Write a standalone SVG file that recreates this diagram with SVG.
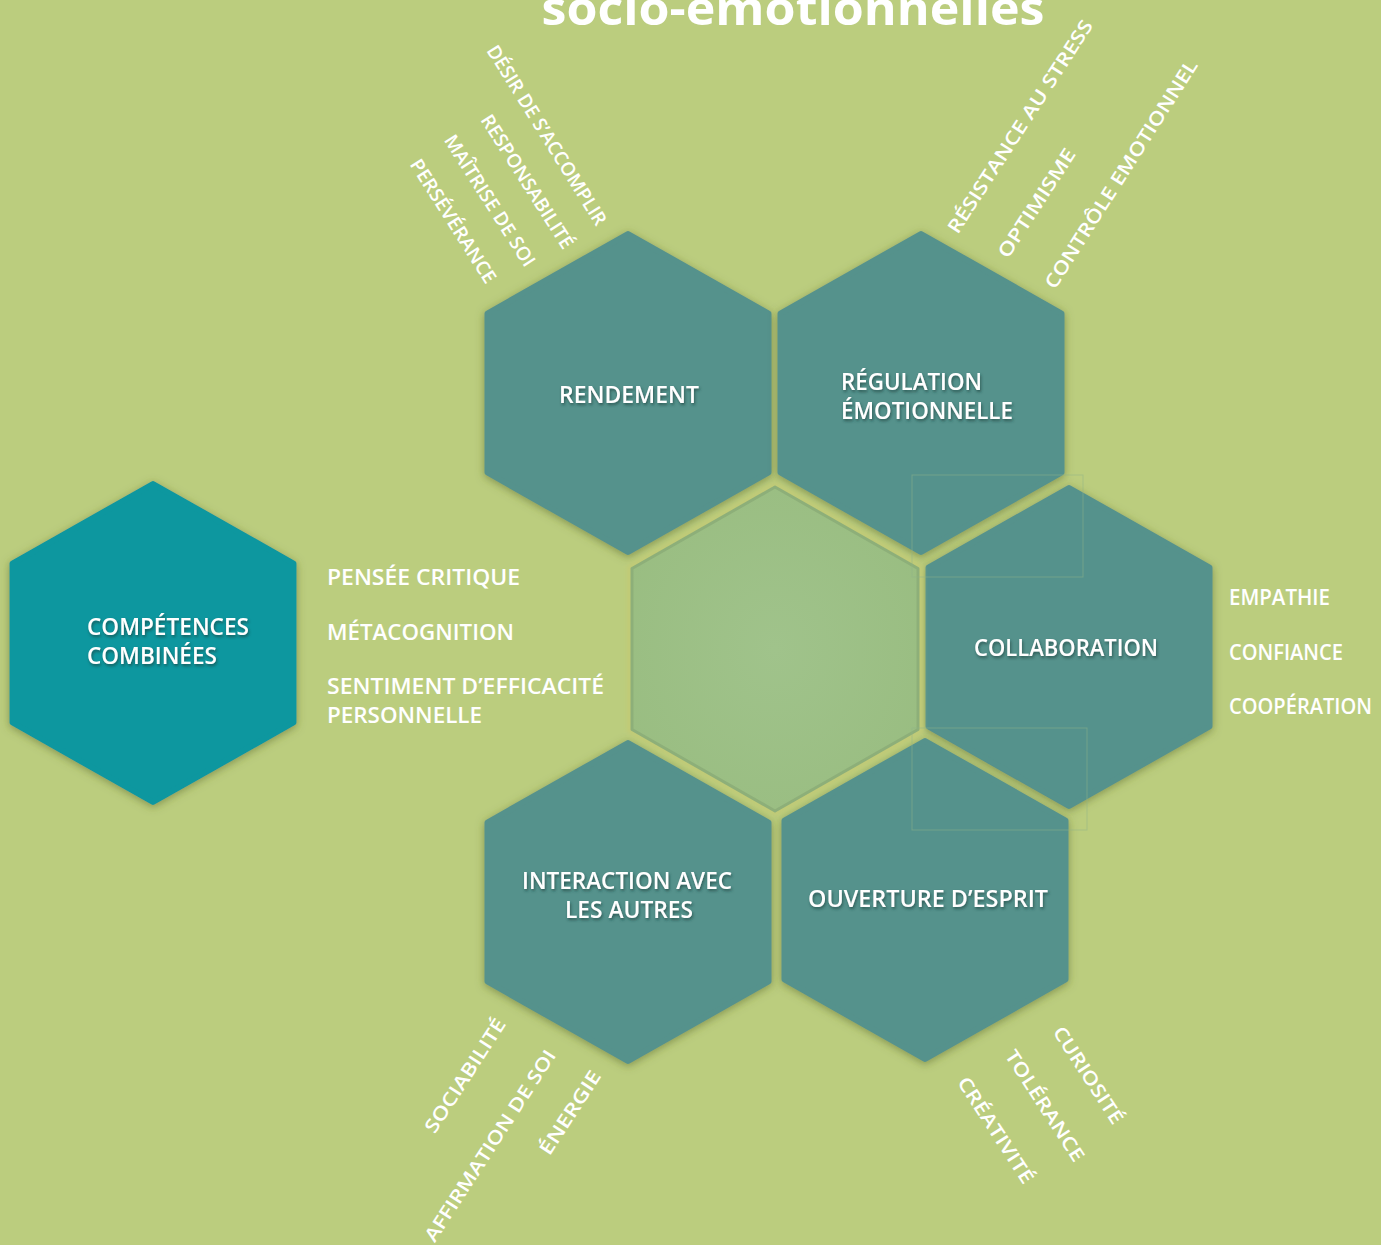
<svg xmlns="http://www.w3.org/2000/svg" width="1381" height="1245" viewBox="0 0 1381 1245">
<defs>
<style>
.hex{fill:#55928C;stroke:#55928C;stroke-width:6;stroke-linejoin:round;filter:url(#sh)}
.hexc{fill:#0E979F;stroke:#0E979F;stroke-width:6;stroke-linejoin:round;filter:url(#sh)}
.t{font-family:"Open Sans","Noto Sans","DejaVu Sans",sans-serif;fill:#FFFFFF}
.hl{font-size:24px;font-weight:600;filter:url(#ts)}
.sl{font-size:22px;font-weight:600}
.rl{font-size:19px;font-weight:600}
.art{fill:none;stroke:#8FB58A;stroke-width:1;opacity:0.5}
</style>
<filter id="sh" x="-20%" y="-20%" width="140%" height="140%">
<feDropShadow dx="0" dy="2" stdDeviation="4" flood-color="#56652A" flood-opacity="0.55"/>
</filter>
<filter id="ts" x="-10%" y="-40%" width="120%" height="180%">
<feDropShadow dx="1" dy="2" stdDeviation="1.5" flood-color="#1F3F3C" flood-opacity="0.7"/>
</filter>
<filter id="gl" x="-20%" y="-20%" width="140%" height="140%">
<feGaussianBlur stdDeviation="2"/>
</filter>
<radialGradient id="cg" cx="0.5" cy="0.5" r="0.6">
<stop offset="0" stop-color="#A0C38B"/>
<stop offset="1" stop-color="#99BD81"/>
</radialGradient>
</defs>
<rect x="0" y="0" width="1381" height="1245" fill="#BBCD7E"/>

<text class="t" x="793" y="25" text-anchor="middle" font-size="46" font-weight="700" textLength="503" lengthAdjust="spacingAndGlyphs">socio-émotionnelles</text>

<g id="connectors"></g>

<g id="rendement">
<polygon class="hex" points="628,234 768.5,313.5 768.5,472.5 628,552 487.5,472.5 487.5,313.5"/>
<text class="t hl" x="629" y="403" text-anchor="middle" textLength="140" lengthAdjust="spacingAndGlyphs">RENDEMENT</text>
</g>

<g id="regulation">
<polygon class="hex" points="921,234 1061.5,313.5 1061.5,472.5 921,552 780.5,472.5 780.5,313.5"/>
<text class="t hl" x="841" y="390" textLength="141" lengthAdjust="spacingAndGlyphs">RÉGULATION</text>
<text class="t hl" x="841" y="419" textLength="172" lengthAdjust="spacingAndGlyphs">ÉMOTIONNELLE</text>
</g>

<g id="collaboration">
<polygon class="hex" points="1069,488 1209.5,567.5 1209.5,726.5 1069,806 928.5,726.5 928.5,567.5"/>
<text class="t hl" x="1066" y="656" text-anchor="middle" textLength="184" lengthAdjust="spacingAndGlyphs">COLLABORATION</text>
</g>

<g id="interaction">
<polygon class="hex" points="628,743 768.5,822.5 768.5,981.5 628,1061 487.5,981.5 487.5,822.5"/>
<text class="t hl" x="627" y="889" text-anchor="middle" textLength="210" lengthAdjust="spacingAndGlyphs">INTERACTION AVEC</text>
<text class="t hl" x="629" y="918" text-anchor="middle" textLength="128" lengthAdjust="spacingAndGlyphs">LES AUTRES</text>
</g>

<g id="ouverture">
<polygon class="hex" points="925,741 1065.5,820.5 1065.5,979.5 925,1059 784.5,979.5 784.5,820.5"/>
<text class="t hl" x="928" y="907" text-anchor="middle" textLength="240" lengthAdjust="spacingAndGlyphs">OUVERTURE D’ESPRIT</text>
</g>

<g id="centre">
<polygon points="775,482 923,566 923,732 775,816 627,732 627,566" fill="#C1CA76" filter="url(#gl)"/>
<polygon points="775,487 918,568.5 918,729.5 775,811 632,729.5 632,568.5" fill="url(#cg)" stroke="#8DAF79" stroke-width="3" stroke-linejoin="round"/>
</g>

<g id="competences">
<polygon class="hexc" points="153,484 293.5,563.5 293.5,722.5 153,802 12.5,722.5 12.5,563.5"/>
<text class="t hl" x="87" y="635" textLength="162" lengthAdjust="spacingAndGlyphs">COMPÉTENCES</text>
<text class="t hl" x="87" y="664" textLength="130" lengthAdjust="spacingAndGlyphs">COMBINÉES</text>
</g>

<g id="artefacts">
<rect class="art" x="912" y="475" width="171" height="102"/>
<rect class="art" x="912" y="728" width="175" height="102"/>
</g>

<g id="liste-combinees">
<text class="t sl" x="327" y="585" textLength="193" lengthAdjust="spacingAndGlyphs">PENSÉE CRITIQUE</text>
<text class="t sl" x="327" y="640" textLength="187" lengthAdjust="spacingAndGlyphs">MÉTACOGNITION</text>
<text class="t sl" x="327" y="694" textLength="277" lengthAdjust="spacingAndGlyphs">SENTIMENT D’EFFICACITÉ</text>
<text class="t sl" x="327" y="723" textLength="155" lengthAdjust="spacingAndGlyphs">PERSONNELLE</text>
</g>

<g id="liste-collaboration">
<text class="t sl" x="1229" y="605" textLength="101" lengthAdjust="spacingAndGlyphs">EMPATHIE</text>
<text class="t sl" x="1229" y="660" textLength="114" lengthAdjust="spacingAndGlyphs">CONFIANCE</text>
<text class="t sl" x="1229" y="714" textLength="143" lengthAdjust="spacingAndGlyphs">COOPÉRATION</text>
</g>

<g id="liste-rendement">
<text class="t rl" transform="translate(547,135) rotate(58)" text-anchor="middle" dy="0.36em" textLength="208" lengthAdjust="spacingAndGlyphs">DÉSIR DE S’ACCOMPLIR</text>
<text class="t rl" transform="translate(527.5,181.5) rotate(57.5)" text-anchor="middle" dy="0.36em" textLength="155" lengthAdjust="spacingAndGlyphs">RESPONSABILITÉ</text>
<text class="t rl" transform="translate(490,200.5) rotate(57.5)" text-anchor="middle" dy="0.36em" textLength="152" lengthAdjust="spacingAndGlyphs">MAÎTRISE DE SOI</text>
<text class="t rl" transform="translate(453.5,221) rotate(57.5)" text-anchor="middle" dy="0.36em" textLength="143" lengthAdjust="spacingAndGlyphs">PERSÉVÉRANCE</text>
</g>

<g id="liste-regulation">
<text class="t rl" transform="translate(1020,126.5) rotate(-57)" text-anchor="middle" dy="0.36em" textLength="250" lengthAdjust="spacingAndGlyphs">RÉSISTANCE AU STRESS</text>
<text class="t rl" transform="translate(1036.5,203) rotate(-57)" text-anchor="middle" dy="0.36em" textLength="126" lengthAdjust="spacingAndGlyphs">OPTIMISME</text>
<text class="t rl" transform="translate(1121,174) rotate(-57.5)" text-anchor="middle" dy="0.36em" textLength="267" lengthAdjust="spacingAndGlyphs">CONTRÔLE EMOTIONNEL</text>
</g>

<g id="liste-interaction">
<text class="t rl" transform="translate(465,1075.5) rotate(-57)" text-anchor="middle" dy="0.36em" textLength="132" lengthAdjust="spacingAndGlyphs">SOCIABILITÉ</text>
<text class="t rl" transform="translate(490,1145.5) rotate(-57)" text-anchor="middle" dy="0.36em" textLength="224" lengthAdjust="spacingAndGlyphs">AFFIRMATION DE SOI</text>
<text class="t rl" transform="translate(570,1112.5) rotate(-57)" text-anchor="middle" dy="0.36em" textLength="96" lengthAdjust="spacingAndGlyphs">ÉNERGIE</text>
</g>

<g id="liste-ouverture">
<text class="t rl" transform="translate(1088.5,1075) rotate(57)" text-anchor="middle" dy="0.36em" textLength="112" lengthAdjust="spacingAndGlyphs">CURIOSITÉ</text>
<text class="t rl" transform="translate(1045,1105.5) rotate(57)" text-anchor="middle" dy="0.36em" textLength="129" lengthAdjust="spacingAndGlyphs">TOLÉRANCE</text>
<text class="t rl" transform="translate(996,1130) rotate(57)" text-anchor="middle" dy="0.36em" textLength="123" lengthAdjust="spacingAndGlyphs">CRÉATIVITÉ</text>
</g>
</svg>
